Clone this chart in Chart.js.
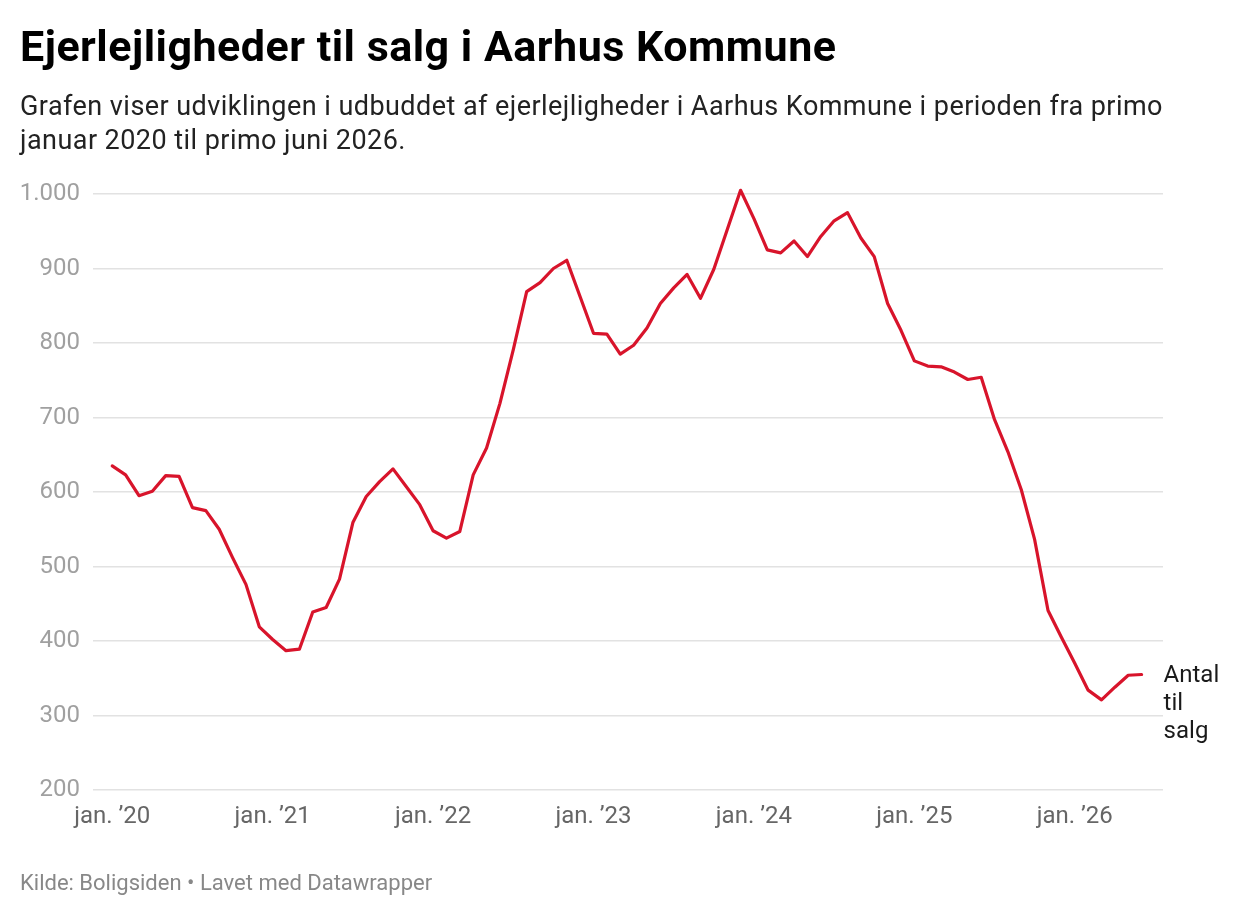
<!DOCTYPE html>
<html>
<head>
<meta charset="utf-8">
<script src="https://cdn.jsdelivr.net/npm/chart.js@4.4.1/dist/chart.umd.min.js"></script>
<style>
  html, body { margin: 0; padding: 0; background: #fff; }
  #wrap { position: relative; width: 1240px; height: 916px; font-family: Roboto, "Noto Sans", sans-serif; }
  #c { position: absolute; left: 0; top: 0; }
  .t { position: absolute; left: 20px; white-space: nowrap; }
  #title { top: 21px; font-size: 43px; line-height: 50px; font-weight: 700; color: #000; letter-spacing: 0.5px; }
  #sub { top: 90px; font-size: 27px; line-height: 33.5px; color: #222; letter-spacing: 0.45px; }
  #foot { top: 870px; font-size: 22px; line-height: 26px; color: #888; }
</style>
</head>
<body>
<div id="wrap">
  <canvas id="c" width="1240" height="916"></canvas>
  <div class="t" id="title">Ejerlejligheder til salg i Aarhus Kommune</div>
  <div class="t" id="sub">Grafen viser udviklingen i udbuddet af ejerlejligheder i Aarhus Kommune i perioden fra primo<br>januar 2020 til primo juni 2026.</div>
  <div class="t" id="foot">Kilde: Boligsiden • Lavet med Datawrapper</div>
</div>
<script>
// Monthly values, Jan 2020 .. Jun 2026
const values2020 = [635, 623, 595, 601, 622, 621, 579, 575, 550, 512, 476, 419];
const values2021 = [402, 387, 389, 439, 445, 483, 559, 594, 614, 631, 607, 583];
const values2022 = [548, 538, 547, 623, 659, 719, 791, 869, 881, 900, 911, 862];
const values2023 = [813, 812, 785, 797, 820, 853, 874, 892, 860, 899, 952, 1005];
const values2024 = [967, 925, 921, 937, 916, 943, 964, 975, 941, 916, 853, 817];
const values2025 = [776, 769, 768, 761, 751, 754, 697, 654, 603, 536, 441, 405];
const values2026 = [370, 334, 321, 338, 354, 355];
const seriesName = ["Antal", "til", "salg"];
const xTickLabels = ["jan. \u201920", "jan. \u201921", "jan. \u201922", "jan. \u201923", "jan. \u201924", "jan. \u201925", "jan. \u201926"];
const xTickIndex = [0, 12, 24, 36, 48, 60, 72];
const yTicks = [200, 300, 400, 500, 600, 700, 800, 900, 1000];

const values = [].concat(values2020, values2021, values2022, values2023, values2024, values2025, values2026);
const points = values.map((v, i) => ({ x: i, y: v }));

const endLabel = {
  id: 'endLabel',
  afterDatasetsDraw(chart) {
    const meta = chart.getDatasetMeta(0);
    const last = meta.data[meta.data.length - 1];
    const ctx = chart.ctx;
    ctx.save();
    ctx.font = '24px Roboto';
    ctx.fillStyle = '#1a1a1a';
    ctx.textBaseline = 'middle';
    ctx.textAlign = 'left';
    seriesName.forEach((s, k) => ctx.fillText(s, last.x + 22, last.y + 1 + k * 28));
    ctx.restore();
  }
};

new Chart(document.getElementById('c'), {
  type: 'line',
  data: {
    datasets: [{
      data: points,
      borderColor: '#d8142b',
      borderWidth: 3.2,
      pointRadius: 0,
      tension: 0,
      borderJoinStyle: 'round',
      borderCapStyle: 'round',
      clip: false
    }]
  },
  options: {
    responsive: false,
    animation: false,
    devicePixelRatio: 1,
    layout: { padding: { left: 0, right: 77, top: 194, bottom: 0 } },
    plugins: { legend: { display: false }, tooltip: { enabled: false } },
    scales: {
      x: {
        type: 'linear',
        min: -1.44,
        max: 78.6,
        afterBuildTicks: s => { s.ticks = xTickIndex.map(v => ({ value: v })); },
        afterFit: s => { s.height = 126; },
        grid: { display: false, drawTicks: false },
        border: { display: false },
        ticks: {
          padding: 13,
          autoSkip: false,
          maxRotation: 0,
          color: '#666',
          font: { family: 'Roboto', size: 24 },
          callback: (v) => { const k = xTickIndex.indexOf(v); return k >= 0 ? xTickLabels[k] : ''; }
        }
      },
      y: {
        min: 200,
        max: 1000,
        afterBuildTicks: s => { s.ticks = yTicks.map(v => ({ value: v })); },
        afterFit: s => { s.width = 93; },
        grid: { color: '#e2e2e2', lineWidth: 1.5, drawTicks: false },
        border: { display: false },
        ticks: {
          padding: 13,
          color: '#a0a0a0',
          font: { family: 'Roboto', size: 24 },
          callback: v => v >= 1000 ? v.toLocaleString('da-DK').replace(',', '.') : String(v)
        }
      }
    }
  },
  plugins: [endLabel]
});
</script>
</body>
</html>
